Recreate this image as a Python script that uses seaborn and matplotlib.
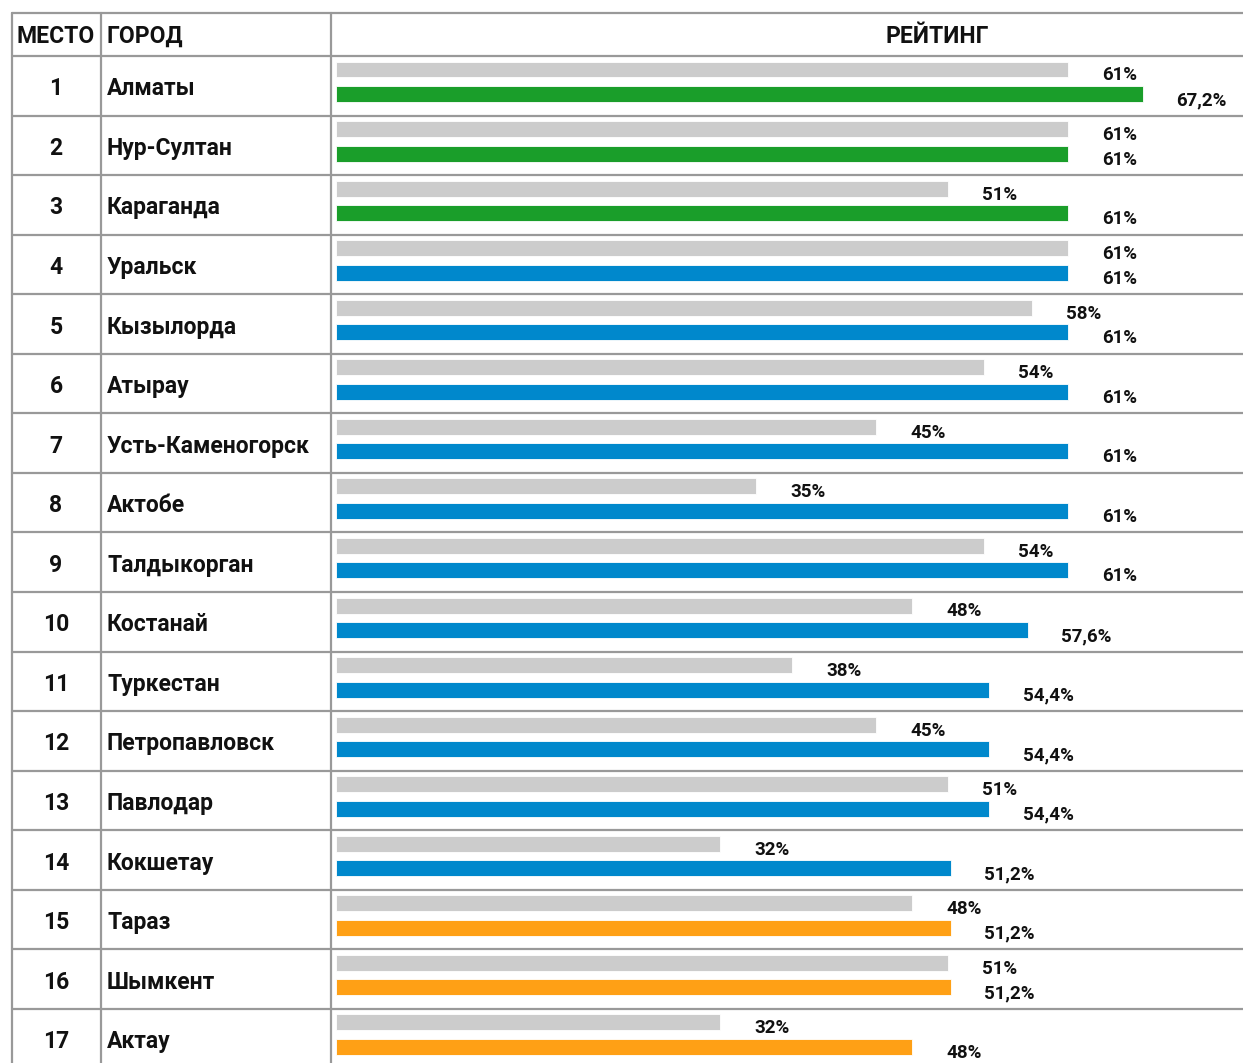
import matplotlib
matplotlib.use("Agg")
import matplotlib.pyplot as plt
import seaborn as sns
import numpy as np
import pandas as pd
from matplotlib.lines import Line2D

ranks = list(range(1, 18))
cities = ["Алматы", "Нур-Султан", "Караганда", "Уральск", "Кызылорда", "Атырау",
          "Усть-Каменогорск", "Актобе", "Талдыкорган", "Костанай", "Туркестан",
          "Петропавловск", "Павлодар", "Кокшетау", "Тараз", "Шымкент", "Актау"]
prev = [61, 61, 51, 61, 58, 54, 45, 35, 54, 48, 38, 45, 51, 32, 48, 51, 32]
cur = [67.2, 61, 61, 61, 61, 61, 61, 61, 61, 57.6, 54.4, 54.4, 54.4, 51.2, 51.2, 51.2, 48]
groups = ["top"] * 3 + ["mid"] * 11 + ["low"] * 3

palette = {"top": "#1a9e2a", "mid": "#0088cc", "low": "#ffa015"}
gray = "#cccccc"

sns.set_theme(style="white")
plt.rcParams['font.family'] = ['Roboto', 'DejaVu Sans']

W, H = 1243, 1063
fig = plt.figure(figsize=(W / 100, H / 100), dpi=100)

def fx(x):
    return x / W

def fy(y):
    return 1 - y / H

row_top = 56
row_h = 59.56
header_top = 13

# bar area axes: x in %, y in rows
ax = fig.add_axes([fx(331), 0, fx(W - 331), (H - row_top) / H])

df = pd.DataFrame({"city": cities, "prev": prev, "cur": cur, "group": groups})
df["pos"] = np.arange(len(df))
df["pos_prev"] = df["pos"] + 13.5 / row_h
df["pos_cur"] = df["pos"] + 38 / row_h

bar_w = 16 / row_h
sns.barplot(data=df, x="prev", y="pos_prev", orient="h", native_scale=True,
            color=gray, width=bar_w, errorbar=None, ax=ax,
            edgecolor="white", linewidth=0.6, saturation=1)
sns.barplot(data=df, x="cur", y="pos_cur", orient="h", native_scale=True,
            hue="group", palette=palette, dodge=False, width=bar_w,
            errorbar=None, ax=ax, legend=False,
            edgecolor="white", linewidth=0.6, saturation=1)

ax.set_xlim(-0.45, (W - 331 - 5.4) / 12)
ax.set_ylim((H - row_top) / row_h, 0)
ax.axis("off")

def fmt(v):
    return f"{v:g}".replace(".", ",") + "%"

lab_kw = dict(ha="left", va="center", fontsize=13.5, fontweight="bold", color="#111111")
for i, r in df.iterrows():
    ax.text(r["prev"] + 2.8, r["pos_prev"] + 0.1, fmt(r["prev"]), **lab_kw)
    ax.text(r["cur"] + 2.8, r["pos_cur"] + 0.1, fmt(r["cur"]), **lab_kw)

# table grid
line_kw = dict(color="#999999", linewidth=1.6, transform=fig.transFigure)
fig.add_artist(Line2D([fx(12), 1], [fy(header_top)] * 2, **line_kw))
for k in range(len(cities)):
    y = row_top + k * row_h
    fig.add_artist(Line2D([fx(12), 1], [fy(y)] * 2, **line_kw))
for x in [12, 101, 331]:
    fig.add_artist(Line2D([fx(x)] * 2, [fy(header_top), 0], **line_kw))

# header
txt_kw = dict(va="center", fontsize=16.5, fontweight="bold", color="#111111")
hy = fy((header_top + row_top) / 2 + 2)
fig.text(fx(16), hy, "МЕСТО", ha="left", **txt_kw)
fig.text(fx(107), hy, "ГОРОД", ha="left", **txt_kw)
fig.text(fx(937), hy, "РЕЙТИНГ", ha="center", **txt_kw)

for k, (rk, city) in enumerate(zip(ranks, cities)):
    cy = fy(row_top + (k + 0.5) * row_h + 3)
    fig.text(fx(56), cy, str(rk), ha="center", **txt_kw)
    fig.text(fx(107), cy, city, ha="left", **txt_kw)

fig.savefig("out.png", dpi=100)
